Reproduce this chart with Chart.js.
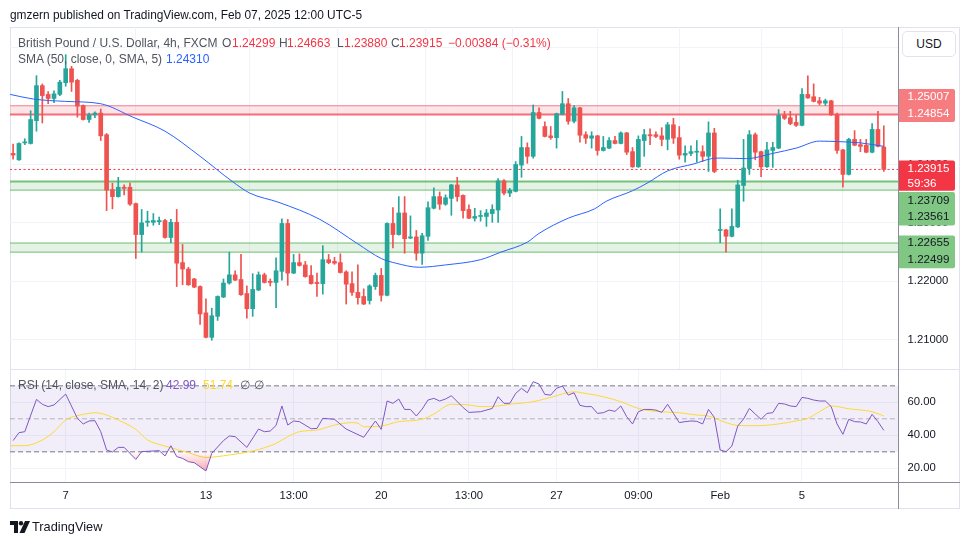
<!DOCTYPE html>
<html>
<head>
<meta charset="utf-8">
<script src="https://cdn.jsdelivr.net/npm/chart.js@4.4.1/dist/chart.umd.min.js"></script>
<style>
html,body{margin:0;padding:0;background:#fff;}
#wrap{position:relative;width:970px;height:545px;overflow:hidden;font-family:'Liberation Sans',Arial,sans-serif;}
canvas{position:absolute;left:0;top:0;}
.t{position:absolute;white-space:nowrap;line-height:14px;height:14px;font-size:12px;}
.g{color:#50535e;}
.r{color:#f23645;}
.ln{position:absolute;}
</style>
</head>
<body>
<div id="wrap">
  <div class="ln" style="left:10px;top:27px;width:950px;height:482px;border:1px solid #e0e3eb;box-sizing:border-box;"></div>
  <canvas id="main" width="970" height="545"></canvas>
  <canvas id="rsi" width="970" height="545"></canvas>
  <div class="ln" style="left:10px;top:369px;width:950px;height:1px;background:#e0e3eb;"></div>
  <div class="ln" style="left:898px;top:27px;width:1px;height:482px;background:#8a8d97;"></div>
  <div class="ln" style="left:10px;top:482px;width:950px;height:1px;background:#8a8d97;"></div>

  <div class="t" style="left:10px;top:8px;font-size:11.9px;color:#131722;">gmzern published on TradingView.com, Feb 07, 2025 12:00 UTC-5</div>

  <div class="t g" style="left:18px;top:36px;">British Pound / U.S. Dollar, 4h, FXCM</div>
  <div class="t g" style="left:222px;top:36px;">O</div><div class="t r" style="left:232px;top:36px;">1.24299</div>
  <div class="t g" style="left:279px;top:36px;">H</div><div class="t r" style="left:287px;top:36px;">1.24663</div>
  <div class="t g" style="left:337px;top:36px;">L</div><div class="t r" style="left:344px;top:36px;">1.23880</div>
  <div class="t g" style="left:391px;top:36px;">C</div><div class="t r" style="left:399px;top:36px;">1.23915</div>
  <div class="t r" style="left:448px;top:36px;">−0.00384 (−0.31%)</div>

  <div class="t g" style="left:18px;top:52px;">SMA (50, close, 0, SMA, 5)</div>
  <div class="t" style="left:166px;top:52px;color:#2962ff;">1.24310</div>

  <div class="t g" style="left:18px;top:378px;">RSI (14, close, SMA, 14, 2)</div>
  <div class="t" style="left:166px;top:378px;color:#7e57c2;">42.99</div>
  <div class="t" style="left:203px;top:378px;color:#fdd835;">51.74</div>
  <div class="t g" style="left:240px;top:378px;">∅</div>
  <div class="t g" style="left:254px;top:378px;">∅</div>

  <div class="ln" style="left:902px;top:31px;width:54px;height:26px;border:1px solid #e0e3eb;border-radius:5px;background:#fff;box-sizing:border-box;text-align:center;line-height:24px;font-size:12px;color:#131722;">USD</div>

  <svg class="ln" style="left:10px;top:521px;" width="20" height="13" viewBox="0 0 20 13">
    <path d="M0 0H8V12H4V4H0Z" fill="#131722"/>
    <circle cx="11" cy="2.2" r="2.2" fill="#131722"/>
    <path d="M15 0H20L14.5 12H9.5Z" fill="#131722"/>
  </svg>
  <div class="t" style="left:32px;top:520px;font-size:12.8px;color:#131722;">TradingView</div>
</div>

<script>
// ---------------- DATA ----------------
const openPrices = [
1.2419,1.2408,1.2437,1.2436,1.2475,1.2535,1.2520,1.2513,1.2520,1.2540,
1.2564,1.2544,1.2501,1.2477,1.2485,1.2488,1.2451,1.2357,1.2345,1.2361,
1.2361,1.2333,1.2280,1.2301,1.2301,1.2302,1.2304,1.2275,1.2301,1.2232,
1.2221,1.2204,1.2191,1.2146,1.2104,1.2140,1.2173,1.2197,1.2211,1.2203,
1.2179,1.2153,1.2185,1.2211,1.2200,1.2198,1.2217,1.2299,1.2214,1.2232,
1.2228,1.2210,1.2198,1.2196,1.2237,1.2234,1.2232,1.2216,1.2196,1.2181,
1.2174,1.2167,1.2191,1.2210,1.2176,1.2299,1.2280,1.2317,1.2274,1.2276,
1.2248,1.2277,1.2325,1.2345,1.2332,1.2342,1.2365,1.2347,1.2323,1.2308,
1.2311,1.2311,1.2316,1.2322,1.2372,1.2351,1.2354,1.2399,1.2429,1.2414,
1.2489,1.2465,1.2449,1.2446,1.2486,1.2504,1.2474,1.2497,1.2451,1.2445,
1.2449,1.2424,1.2428,1.2441,1.2436,1.2454,1.2422,1.2396,1.2441,1.2451,
1.2451,1.2449,1.2443,1.2468,1.2446,1.2416,1.2419,1.2421,1.2422,1.2414,
1.2454,1.2287,1.2288,1.2277,1.2293,1.2364,1.2393,1.2451,1.2422,1.2396,
1.2424,1.2428,1.2484,1.2480,1.2472,1.2467,1.2520,1.2516,1.2509,1.2505,
1.2509,1.2485,1.2425,1.2383,1.2443,1.2434,1.2433,1.2421,1.2460,1.24299];
const highPrices = [
1.2435,1.2437,1.2444,1.2492,1.2552,1.2538,1.2525,1.2526,1.2544,1.2588,
1.2568,1.2546,1.2502,1.2488,1.2490,1.2495,1.2453,1.2368,1.2378,1.2365,
1.2368,1.2334,1.2323,1.2320,1.2316,1.2310,1.2306,1.2306,1.2323,1.2263,
1.2224,1.2205,1.2192,1.2170,1.2154,1.2175,1.2204,1.2250,1.2218,1.2246,
1.2192,1.2213,1.2216,1.2214,1.2204,1.2240,1.2307,1.2306,1.2246,1.2247,
1.2234,1.2227,1.2214,1.2261,1.2246,1.2241,1.2247,1.2218,1.2216,1.2228,
1.2187,1.2194,1.2214,1.2222,1.2300,1.2326,1.2345,1.2345,1.2312,1.2287,
1.2282,1.2336,1.2360,1.2353,1.2348,1.2366,1.2378,1.2348,1.2331,1.2325,
1.2321,1.2323,1.2331,1.2376,1.2374,1.2359,1.2405,1.2448,1.2437,1.2502,
1.2497,1.2473,1.2465,1.2488,1.2525,1.2513,1.2501,1.2498,1.2456,1.2456,
1.2450,1.2448,1.2446,1.2448,1.2456,1.2455,1.2429,1.2449,1.2460,1.2461,
1.2456,1.2463,1.2472,1.2479,1.2465,1.2432,1.2432,1.2441,1.2432,1.2473,
1.2462,1.2324,1.2289,1.2324,1.2373,1.2443,1.2458,1.2454,1.2423,1.2438,
1.2438,1.2494,1.2491,1.2491,1.2485,1.2530,1.2552,1.2538,1.2515,1.2512,
1.2510,1.2488,1.2426,1.2445,1.2458,1.2443,1.2443,1.2470,1.2491,1.24663];
const lowPrices = [
1.2409,1.2407,1.2434,1.2435,1.2457,1.2471,1.2504,1.2506,1.2518,1.2534,
1.2525,1.2481,1.2476,1.2472,1.2480,1.2441,1.2321,1.2324,1.2344,1.2348,
1.2330,1.2239,1.2250,1.2294,1.2296,1.2297,1.2274,1.2266,1.2191,1.2194,
1.2193,1.2189,1.2126,1.2103,1.2099,1.2133,1.2172,1.2195,1.2201,1.2176,
1.2137,1.2140,1.2184,1.2197,1.2192,1.2155,1.2202,1.2193,1.2213,1.2226,
1.2207,1.2195,1.2174,1.2178,1.2230,1.2229,1.2214,1.2161,1.2176,1.2161,
1.2160,1.2161,1.2186,1.2166,1.2175,1.2257,1.2279,1.2248,1.2273,1.2236,
1.2229,1.2270,1.2324,1.2323,1.2330,1.2313,1.2337,1.2308,1.2307,1.2303,
1.2303,1.2294,1.2301,1.2301,1.2348,1.2345,1.2353,1.2378,1.2402,1.2411,
1.2478,1.2447,1.2443,1.2428,1.2485,1.2469,1.2471,1.2438,1.2436,1.2428,
1.2416,1.2423,1.2427,1.2435,1.2435,1.2417,1.2395,1.2395,1.2414,1.2434,
1.2446,1.2432,1.2425,1.2436,1.2409,1.2404,1.2415,1.2404,1.2405,1.2388,
1.2386,1.2266,1.2250,1.2276,1.2292,1.2337,1.2383,1.2408,1.2379,1.2395,
1.2395,1.2427,1.2477,1.2468,1.2465,1.2466,1.2513,1.2507,1.2502,1.2501,
1.2484,1.2419,1.2361,1.2382,1.2432,1.2422,1.2420,1.2420,1.2430,1.23880];
const closePrices = [
1.2416,1.2436,1.2438,1.2477,1.2535,1.2518,1.2513,1.2521,1.2541,1.2564,
1.2541,1.2500,1.2477,1.2485,1.2488,1.2449,1.2356,1.2345,1.2361,1.2359,
1.2332,1.2280,1.2300,1.2303,1.2304,1.2304,1.2275,1.2301,1.2231,1.2221,
1.2194,1.2190,1.2144,1.2104,1.2141,1.2174,1.2197,1.2211,1.2202,1.2177,
1.2153,1.2186,1.2211,1.2198,1.2198,1.2218,1.2299,1.2214,1.2232,1.2227,
1.2208,1.2196,1.2196,1.2237,1.2232,1.2231,1.2215,1.2195,1.2181,1.2172,
1.2161,1.2192,1.2210,1.2176,1.2299,1.2280,1.2317,1.2273,1.2276,1.2248,
1.2278,1.2326,1.2345,1.2332,1.2343,1.2365,1.2345,1.2321,1.2308,1.2311,
1.2312,1.2317,1.2323,1.2372,1.2351,1.2356,1.2400,1.2429,1.2414,1.2489,
1.2479,1.2448,1.2446,1.2487,1.2504,1.2474,1.2497,1.2450,1.2445,1.2449,
1.2424,1.2429,1.2441,1.2436,1.2454,1.2421,1.2396,1.2443,1.2451,1.2449,
1.2448,1.2443,1.2468,1.2445,1.2416,1.2419,1.2422,1.2422,1.2414,1.2454,
1.2388,1.2288,1.2277,1.2294,1.2365,1.2394,1.2451,1.2421,1.2396,1.2425,
1.2429,1.2484,1.2479,1.2470,1.2467,1.2520,1.2514,1.2508,1.2505,1.2509,
1.2485,1.2424,1.2383,1.2443,1.2433,1.2431,1.2421,1.2460,1.2431,1.23915];

const smaIdx = [-0.5,3.5,9,15,20.5,26,32,37.5,40.5,45.5,52.5,59,63,65.5,69.5,74,80,83.5,88,90,95,99.5,101.5,106,108.5,112,116.5,119.5,121,125.5,130,134,138,141.5,145,149];
const smaValues = [1.2520,1.2512,1.2508,1.2504,1.2481,1.2457,1.2414,1.2371,1.2351,1.2335,1.2306,1.2264,1.2239,1.2231,1.2224,1.2228,1.2237,1.2250,1.2267,1.2282,1.2308,1.2324,1.2337,1.2355,1.2368,1.2389,1.2401,1.2410,1.2411,1.2410,1.2419,1.2428,1.2440,1.2439,1.2437,1.2431];

const rsiIdx = [0,1,2,4,5,6,7,9,11,12,13,14,15,16,17,18,19,21,22,25,26,27,28,29,30,31,33,34,36,37,38,40,42,43,44,45,46,47,48,49,51,52,53,55,57,60,62,63,64,65,66,67,68,69,70,71,72,73,74,75,77,
78,80,82,83,84,85,86,87,88,89,90,91,92,93,94,95,96,97,98,99,100,101,102,103,104,105,106,107,108,109,110,111,112,113,114,115,116,117,118,119,120,121,122,123,124,125,126,127,128,129,130,131,132,133,134,135,136,137,138,139,140,141,142,143,144,145,146,147,148,149];
const rsiValues = [36.8,41.6,42.2,61.8,58.8,57.4,58.4,65.0,50.3,46.9,48.7,48.9,42.2,31.1,29.9,32.7,32.7,25.4,30.1,30.7,27.5,33.7,27.1,26.0,24.0,23.4,18.4,29.1,36.8,39.6,39.2,32.7,43.8,42.2,42.6,46.0,57.8,46.2,48.7,48.3,44.0,44.2,50.3,49.7,43.8,38.8,48.7,43.6,60.8,59.4,62.0,55.7,55.7,51.7,55.9,61.4,62.4,60.8,62.0,64.0,56.9,
53.9,54.3,56.3,63.4,59.4,59.4,65.4,68.5,65.8,72.5,71.1,64.8,64.4,68.5,69.9,64.4,65.8,58.2,57.4,57.4,53.3,53.7,55.3,54.5,57.8,51.3,46.9,54.3,55.7,55.7,55.3,53.9,58.8,53.3,47.7,48.3,48.7,48.5,46.9,55.7,50.9,31.1,30.1,33.5,45.6,49.9,56.3,52.9,49.7,53.3,53.7,59.4,59.0,57.8,57.4,63.0,62.4,61.4,60.8,60.8,57.4,46.9,40.6,49.7,48.3,48.1,46.9,52.7,48.3,42.99];

const rsiSmaIdx = [-0.5,2,5,7,9,11,13,14,16,18,21,23,26,30,33,37,41,45,47,49,52,55,58,59,60,63,66,70,72,75,78,80,83,85,89,92,96,98,101,104,107,110,114,117,119,122,124,127,131,134,136,138,140,143,147,149];
const rsiSmaValues = [33.7,33.7,37.2,42.2,49.3,51.9,53.3,53.7,52.3,49.3,43.6,37.2,33.5,29.5,26.6,28.1,30.5,35.1,39.2,42.2,43.2,46.2,47.7,47.3,45.2,45.6,48.3,49.7,52.9,58.8,58.4,57.4,57.8,58.8,60.4,63.0,66.4,65.4,63.4,60.4,56.3,54.5,53.7,52.3,51.7,47.7,46.0,45.8,46.9,48.7,50.3,54.3,57.8,56.1,54.3,51.74];

const timeTickIdx = [9,33,48,63,78,93,107,121,135];
const timeTickLabels = ['7','13','13:00','20','13:00','27','09:00','Feb','5'];
const priceTicks = [1.21,1.22,1.23,1.24,1.25,1.26];
const rsiTicks = [20,40,60];
const zoneRed = [1.25007, 1.24854];
const zoneGreenA = [1.23709, 1.23561];
const zoneGreenB = [1.22655, 1.22499];
const lastPrice = 1.23915;
const countdown = '59:36';
const rsiLevels = [70, 50, 30];

// ---------------- CONFIG ----------------
const X_MIN = -0.53, X_MAX = 151.6;
const RSI_MIN = 11.7, RSI_MAX = 79.6, RSI_TOP = 370, RSI_BOTTOM = 482;
const UP = '#26a69a', DOWN = '#ef5350';
const FONT = "'Liberation Sans', Arial, sans-serif";
Chart.defaults.font.family = FONT;
Chart.defaults.font.size = 11.3;
Chart.defaults.color = '#131722';
Chart.defaults.animation = false;
Chart.defaults.plugins.legend.display = false;
Chart.defaults.plugins.tooltip.enabled = false;

const idx = closePrices.map((_, i) => i);
const candleColors = idx.map(i => closePrices[i] >= openPrices[i] ? UP : DOWN);

function hline(v, extra) {
  return Object.assign({type:'line', data:[{x:X_MIN, y:v}, {x:X_MAX, y:v}], pointRadius:0, borderWidth:1, fill:false}, extra);
}
function xScale(showLabels) {
  return {
    type:'linear', min:X_MIN, max:X_MAX, offset:false, position:'bottom',
    afterBuildTicks: s => { s.ticks = timeTickIdx.map(v => ({value:v})); },
    afterFit: s => { s.height = showLabels ? 27 : 0; },
    ticks: {display:showLabels, autoSkip:false, maxRotation:0, padding:7, color:'#131722',
            callback:(v, i) => timeTickLabels[i]},
    grid: {color:'#f0f3fa', drawTicks:false},
    border: {display:false}
  };
}

const tagPlugin = {
  id:'priceTags',
  afterDraw(chart) {
    const ys = chart.scales.y, ctx = chart.ctx;
    const Y = v => ys.getPixelForValue(v);
    const L = chart.chartArea.right, W = 56;
    const tags = [
      {top:Y(zoneRed[0]) - 16.6, bottom:Y(zoneRed[1]) + 7.5, bg:'#f77c80', fg:'#ffffff',
       rows:[[zoneRed[0].toFixed(5), Y(zoneRed[0]) - 8.6], [zoneRed[1].toFixed(5), Y(zoneRed[1]) - 0.5]]},
      {top:Y(lastPrice) - 9, bottom:Y(lastPrice) + 21.3, bg:'#f23645', fg:'#ffffff',
       rows:[[lastPrice.toFixed(5), Y(lastPrice) - 0.4], [countdown, Y(lastPrice) + 14.3]]},
      {top:Y(zoneGreenA[0]) + 10.6, bottom:Y(zoneGreenA[1]) + 35.4, bg:'#81c784', fg:'#131722',
       rows:[[zoneGreenA[0].toFixed(5), Y(zoneGreenA[0]) + 19], [zoneGreenA[1].toFixed(5), Y(zoneGreenA[1]) + 26.4]]},
      {top:Y(zoneGreenB[0]) - 7.6, bottom:Y(zoneGreenB[1]) + 16, bg:'#81c784', fg:'#131722',
       rows:[[zoneGreenB[0].toFixed(5), Y(zoneGreenB[0])], [zoneGreenB[1].toFixed(5), Y(zoneGreenB[1]) + 8]]}
    ];
    ctx.save();
    ctx.font = '11.6px ' + FONT;
    ctx.textBaseline = 'middle';
    ctx.textAlign = 'left';
    for (const t of tags) {
      ctx.fillStyle = t.bg;
      ctx.beginPath();
      ctx.roundRect(L, t.top, W, t.bottom - t.top, [0, 2, 2, 0]);
      ctx.fill();
      ctx.fillStyle = t.fg;
      for (const [s, y] of t.rows) ctx.fillText(s, L + 8.5, y);
    }
    ctx.restore();
  }
};

// ---------------- MAIN PRICE CHART ----------------
new Chart(document.getElementById('main'), {
  type:'bar',
  data:{ datasets:[
    {type:'line', data:smaIdx.map((x, k) => ({x, y:smaValues[k]})), borderColor:'#2962ff', borderWidth:1,
     pointRadius:0, cubicInterpolationMode:'monotone', order:0},
    {data:idx.map(i => ({x:i, y:[Math.min(openPrices[i], closePrices[i]), Math.max(openPrices[i], closePrices[i])]})),
     backgroundColor:candleColors, barThickness:4, minBarLength:1, grouped:false, borderWidth:0, order:1},
    {data:idx.map(i => ({x:i, y:[lowPrices[i], highPrices[i]]})),
     backgroundColor:candleColors, barThickness:1, minBarLength:1, grouped:false, borderWidth:0, order:2},
    hline(lastPrice, {borderColor:'#f23645', borderDash:[2,2.5], order:3}),
    hline(zoneRed[0], {borderColor:'rgba(242,54,69,0.55)', order:4}),
    hline(zoneRed[1], {borderColor:'rgba(242,54,69,0.7)', borderWidth:2, fill:'-1', backgroundColor:'rgba(242,54,69,0.13)', order:5}),
    hline(zoneGreenA[0], {borderColor:'rgba(76,175,80,0.75)', borderWidth:2, order:6}),
    hline(zoneGreenA[1], {borderColor:'rgba(76,175,80,0.8)', fill:'-1', backgroundColor:'rgba(76,175,80,0.15)', order:7}),
    hline(zoneGreenB[0], {borderColor:'rgba(76,175,80,0.8)', order:8}),
    hline(zoneGreenB[1], {borderColor:'rgba(76,175,80,0.8)', fill:'-1', backgroundColor:'rgba(76,175,80,0.15)', order:9})
  ]},
  options:{
    responsive:false, devicePixelRatio:1,
    layout:{padding:{left:10, right:10, top:27, bottom:176}},
    scales:{
      x:xScale(false),
      y:{position:'right', min:1.20498, max:1.26354,
         afterBuildTicks: s => { s.ticks = priceTicks.map(v => ({value:v})); },
         afterFit: s => { s.width = 61; },
         ticks:{callback:v => Number(v).toFixed(5), padding:8.5, color:'#131722'},
         grid:{color:'#f0f3fa', drawTicks:false}, border:{display:false}}
    }
  },
  plugins:[tagPlugin]
});

// ---------------- RSI CHART ----------------
const rsiCanvas = document.getElementById('rsi');
const rctx = rsiCanvas.getContext('2d');
const rsiPix = v => RSI_TOP + (RSI_MAX - v) / (RSI_MAX - RSI_MIN) * (RSI_BOTTOM - RSI_TOP);
const oversoldGrad = rctx.createLinearGradient(0, rsiPix(rsiLevels[2]), 0, rsiPix(15));
oversoldGrad.addColorStop(0, 'rgba(242,54,69,0.02)');
oversoldGrad.addColorStop(1, 'rgba(242,54,69,0.55)');
const overboughtGrad = rctx.createLinearGradient(0, rsiPix(rsiLevels[0]), 0, rsiPix(85));
overboughtGrad.addColorStop(0, 'rgba(38,166,154,0.02)');
overboughtGrad.addColorStop(1, 'rgba(38,166,154,0.55)');

const rsiPts = rsiIdx.map((x, k) => ({x, y:rsiValues[k]}));
new Chart(rsiCanvas, {
  type:'line',
  data:{ datasets:[
    {data:rsiPts, borderColor:'#7e57c2', borderWidth:1, pointRadius:0, order:0,
     fill:{target:{value:rsiLevels[2]}, above:'rgba(0,0,0,0)', below:oversoldGrad}},
    {data:rsiPts, borderWidth:0, borderColor:'rgba(0,0,0,0)', pointRadius:0, order:1,
     fill:{target:{value:rsiLevels[0]}, above:overboughtGrad, below:'rgba(0,0,0,0)'}},
    {data:rsiSmaIdx.map((x, k) => ({x, y:rsiSmaValues[k]})), borderColor:'#fdd835', borderWidth:1, pointRadius:0,
     cubicInterpolationMode:'monotone', order:2},
    hline(rsiLevels[0], {borderColor:'#787b86', borderDash:[5,3], order:6}),
    hline(rsiLevels[2], {borderColor:'#787b86', borderDash:[5,3], fill:'-1', backgroundColor:'rgba(126,87,194,0.1)', order:7}),
    hline(rsiLevels[1], {borderColor:'rgba(120,123,134,0.5)', borderDash:[5,3], order:5})
  ]},
  options:{
    responsive:false, devicePixelRatio:1,
    layout:{padding:{left:10, right:10, top:RSI_TOP, bottom:545 - RSI_BOTTOM - 27}},
    scales:{
      x:xScale(true),
      y:{position:'right', min:RSI_MIN, max:RSI_MAX,
         afterBuildTicks: s => { s.ticks = rsiTicks.map(v => ({value:v})); },
         afterFit: s => { s.width = 61; },
         ticks:{callback:v => Number(v).toFixed(2), padding:8.5, color:'#131722'},
         grid:{color:'#f0f3fa', drawTicks:false}, border:{display:false}}
    }
  }
});
</script>
</body>
</html>
